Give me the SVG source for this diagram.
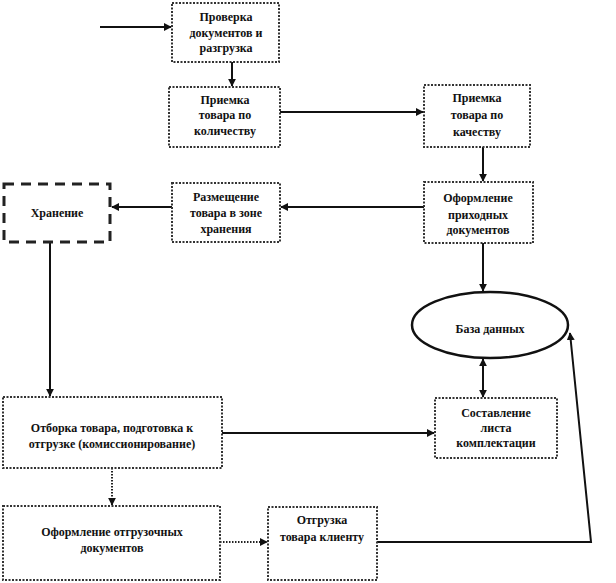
<svg xmlns="http://www.w3.org/2000/svg" width="616" height="583" viewBox="0 0 616 583">
<style>
.box{fill:#fff;stroke:#333;stroke-width:2;stroke-dasharray:2 1.5}
.store{fill:#fff;stroke:#222;stroke-width:3;stroke-dasharray:10 7}
.t{font-family:"Liberation Serif","Times New Roman",serif;font-size:12px;font-weight:bold;fill:#111;text-anchor:middle}
.c{fill:none;stroke:#111;stroke-width:2}
.d{fill:none;stroke:#222;stroke-width:2;stroke-dasharray:1.5 1.5}
</style>
<defs>
<marker id="a" viewBox="0 0 10 10" refX="9" refY="5" markerWidth="4" markerHeight="4" orient="auto-start-reverse" markerUnits="strokeWidth">
<path d="M0,0 L10,5 L0,10 z" fill="#111"/>
</marker>
</defs>
<rect width="616" height="583" fill="#fff"/>
<g id="connectors">
<line class="c" x1="100" y1="27" x2="171" y2="27" marker-end="url(#a)"/>
<line class="c" x1="232" y1="62" x2="232" y2="86" marker-end="url(#a)"/>
<line class="c" x1="280" y1="112" x2="423" y2="112" marker-end="url(#a)"/>
<line class="c" x1="483" y1="147" x2="483" y2="181" marker-end="url(#a)"/>
<line class="c" x1="424" y1="207" x2="281" y2="207" marker-end="url(#a)"/>
<line class="c" x1="172" y1="207" x2="112" y2="207" marker-end="url(#a)"/>
<line class="c" x1="50" y1="243" x2="50" y2="396" marker-end="url(#a)"/>
<line class="c" x1="483" y1="243" x2="483" y2="291" marker-end="url(#a)"/>
<line class="c" x1="483" y1="359" x2="483" y2="397" marker-start="url(#a)" marker-end="url(#a)"/>
<line class="c" x1="222" y1="433" x2="434" y2="433" marker-end="url(#a)"/>
<line class="d" x1="112" y1="468" x2="112" y2="505" marker-end="url(#a)"/>
<line class="d" x1="220" y1="542" x2="267" y2="542" marker-end="url(#a)"/>
<polyline class="c" points="377,542 591,542 570,333" marker-end="url(#a)"/>
</g>
<g id="n1"><rect class="box" x="172" y="3" width="107" height="59"/>
<text class="t" x="226" y="21">Проверка</text><text class="t" x="226" y="37">документов и</text><text class="t" x="226" y="52">разгрузка</text></g>
<g id="n2"><rect class="box" x="169" y="87" width="111" height="60"/>
<text class="t" x="225" y="104">Приемка</text><text class="t" x="225" y="119">товара по</text><text class="t" x="225" y="135">количеству</text></g>
<g id="n3"><rect class="box" x="424" y="85" width="106" height="62"/>
<text class="t" x="477" y="102">Приемка</text><text class="t" x="477" y="119">товара по</text><text class="t" x="477" y="136">качеству</text></g>
<g id="n4"><rect class="box" x="424" y="182" width="109" height="61"/>
<text class="t" x="478" y="202">Оформление</text><text class="t" x="478" y="219">приходных</text><text class="t" x="478" y="234">документов</text></g>
<g id="n5"><rect class="box" x="172" y="183" width="108" height="59"/>
<text class="t" x="226" y="201">Размещение</text><text class="t" x="226" y="217">товара в зоне</text><text class="t" x="226" y="233">хранения</text></g>
<g id="n6"><rect class="store" x="4" y="184" width="106" height="58"/>
<text class="t" x="57" y="217">Хранение</text></g>
<g id="n7"><ellipse cx="490" cy="325" rx="78" ry="33" fill="#fff" stroke="#111" stroke-width="2.5"/>
<text class="t" x="490" y="333">База данных</text></g>
<g id="n8"><rect class="box" x="435" y="398" width="122" height="60"/>
<text class="t" x="496" y="417">Составление</text><text class="t" x="496" y="432">листа</text><text class="t" x="496" y="447">комплектации</text></g>
<g id="n9"><rect class="box" x="3" y="397" width="219" height="71"/>
<text class="t" x="112" y="432">Отборка товара, подготовка  к</text><text class="t" x="112" y="448">отгрузке (комиссионирование)</text></g>
<g id="n10"><rect class="box" x="3" y="506" width="217" height="74"/>
<text class="t" x="112" y="536">Оформление отгрузочных</text><text class="t" x="112" y="552">документов</text></g>
<g id="n11"><rect class="box" x="268" y="507" width="109" height="73"/>
<text class="t" x="322" y="524">Отгрузка</text><text class="t" x="322" y="541">товара клиенту</text></g>
</svg>
